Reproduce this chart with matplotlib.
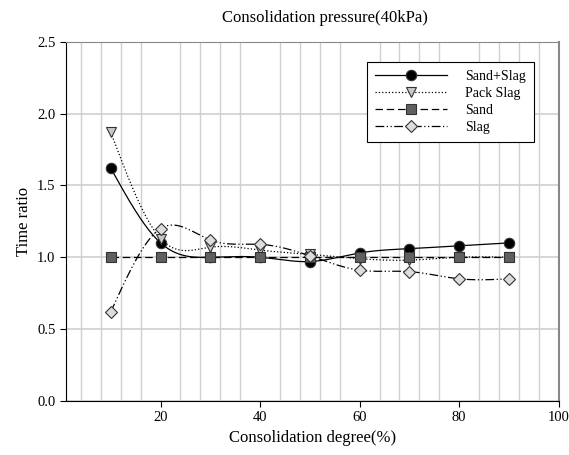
import numpy as np
import matplotlib
matplotlib.use("Agg")
import matplotlib.pyplot as plt
from matplotlib.ticker import MultipleLocator, FormatStrFormatter

plt.rcParams['font.family'] = ['Liberation Serif', 'DejaVu Serif']

degree = [10, 20, 30, 40, 50, 60, 70, 80, 90]
sand_slag = [1.62, 1.10, 1.00, 1.00, 0.97, 1.03, 1.06, 1.08, 1.10]
pack_slag = [1.87, 1.13, 1.07, 1.05, 1.02, 0.99, 0.98, 1.00, 1.00]
sand = [1.00, 1.00, 1.00, 1.00, 1.00, 1.00, 1.00, 1.00, 1.00]
slag = [0.62, 1.20, 1.12, 1.09, 1.01, 0.91, 0.90, 0.85, 0.85]
labels = ['Sand+Slag', 'Pack Slag', 'Sand', 'Slag']


def spline(x, y, n=300):
    # natural cubic spline through the points
    x = np.asarray(x, float)
    y = np.asarray(y, float)
    k = len(x)
    h = np.diff(x)
    A = np.zeros((k, k))
    b = np.zeros(k)
    A[0, 0] = A[-1, -1] = 1
    for i in range(1, k - 1):
        A[i, i - 1] = h[i - 1]
        A[i, i] = 2 * (h[i - 1] + h[i])
        A[i, i + 1] = h[i]
        b[i] = 3 * ((y[i + 1] - y[i]) / h[i] - (y[i] - y[i - 1]) / h[i - 1])
    c = np.linalg.solve(A, b)
    xs = np.linspace(x[0], x[-1], n)
    idx = np.clip(np.searchsorted(x, xs) - 1, 0, k - 2)
    dx = xs - x[idx]
    bb = (y[idx + 1] - y[idx]) / h[idx] - h[idx] * (2 * c[idx] + c[idx + 1]) / 3
    d = (c[idx + 1] - c[idx]) / (3 * h[idx])
    ys = y[idx] + bb * dx + c[idx] * dx ** 2 + d * dx ** 3
    return xs, ys


fig = plt.figure(figsize=(5.69, 4.55), dpi=100)
ax = fig.add_axes([0.116, 0.119, 0.866, 0.789])

styles = [
    dict(ls='-', marker='o', mfc='black', ms=7.5),
    dict(ls=':', marker='v', mfc='#c8c8c8', ms=7.5),
    dict(ls=(0, (6, 3)), marker='s', mfc='#606060', ms=6.5),
    dict(ls=(0, (7, 2, 1, 2, 1, 2)), marker='D', mfc='#dcdcdc', ms=6.5),
]
series = [sand_slag, pack_slag, sand, slag]

for vals, st, lab in zip(series, styles, labels):
    xs, ys = spline(degree, vals)
    ax.plot(xs, ys, color='black', lw=0.9, ls=st['ls'], zorder=3)
    ax.plot(degree, vals, ls='none', marker=st['marker'], mfc=st['mfc'],
            mec='#333333', mew=0.8, ms=st['ms'], zorder=4)
    ax.plot([], [], color='black', lw=0.9, ls=st['ls'], marker=st['marker'],
            mfc=st['mfc'], mec='#333333', mew=0.8, ms=st['ms'], label=lab)

ax.set_xlim(1, 100)
ax.set_ylim(0, 2.5)
ax.set_xticks([20, 40, 60, 80, 100])
ax.xaxis.set_minor_locator(MultipleLocator(4))
ax.yaxis.set_major_locator(MultipleLocator(0.5))
ax.yaxis.set_major_formatter(FormatStrFormatter('%.1f'))
ax.grid(which='minor', axis='x', color='#d0d0d0', lw=1.0)
ax.grid(which='major', axis='y', color='#d0d0d0', lw=1.2)
ax.tick_params(which='minor', length=0)
ax.tick_params(which='major', direction='out', length=4, labelsize=10.5)
ax.set_axisbelow(True)

ax.spines['top'].set_color('#888888')
ax.spines['right'].set_color('#888888')
ax.spines['right'].set_linewidth(1.5)

ax.set_title('Consolidation pressure(40kPa)', fontsize=12, pad=14, x=0.525)
ax.set_xlabel('Consolidation degree(%)', fontsize=12)
ax.set_ylabel('Time ratio', fontsize=12)

leg = ax.legend(loc='upper right', bbox_to_anchor=(0.949, 0.944), fontsize=10,
                fancybox=False, framealpha=1, edgecolor='black',
                handlelength=5.2, borderpad=0.55, labelspacing=0.3,
                handletextpad=1.3, borderaxespad=0)
leg.get_frame().set_linewidth(0.8)

fig.savefig('out.png', dpi=100)
